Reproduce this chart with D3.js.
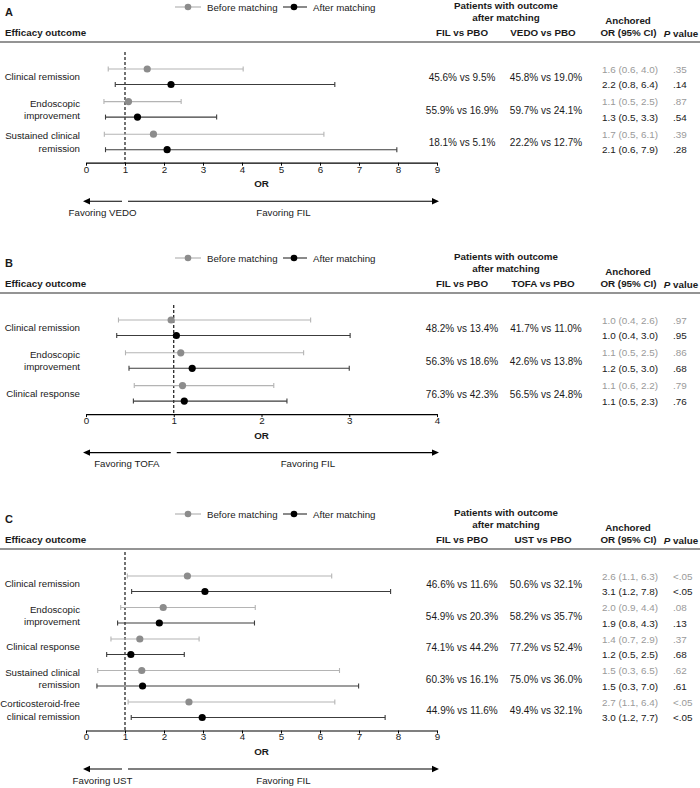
<!DOCTYPE html>
<html><head><meta charset="utf-8">
<script src="https://cdn.jsdelivr.net/npm/d3@7"></script>
<style>
body{margin:0;background:#fff}
svg{display:block}
text{font-family:"Liberation Sans",Arial,Helvetica,sans-serif}
</style>
</head><body>
<svg id="c" width="700" height="788"></svg>
<script>
// ---------- DATA ----------
const panelLetters = ["A", "B", "C"];
const comparators = ["VEDO", "TOFA", "UST"];

// Panel A: FIL vs VEDO
const outcomesA = ["Clinical remission", "Endoscopic\nimprovement", "Sustained clinical\nremission"];
const beforeA = [[0.57, 1.57, 4.03], [0.46, 1.09, 2.44], [0.47, 1.73, 6.10]]; // [lo, OR, hi]
const afterA  = [[0.75, 2.18, 6.38], [0.50, 1.32, 3.35], [0.50, 2.08, 7.97]];
const filPboA = ["45.6% vs 9.5%", "55.9% vs 16.9%", "18.1% vs 5.1%"];
const compPboA = ["45.8% vs 19.0%", "59.7% vs 24.1%", "22.2% vs 12.7%"];
const ciBeforeA = ["1.6 (0.6, 4.0)", "1.1 (0.5, 2.5)", "1.7 (0.5, 6.1)"];
const pBeforeA = [".35", ".87", ".39"];
const ciAfterA = ["2.2 (0.8, 6.4)", "1.3 (0.5, 3.3)", "2.1 (0.6, 7.9)"];
const pAfterA = [".14", ".54", ".28"];
const ticksA = [0, 1, 2, 3, 4, 5, 6, 7, 8, 9];

// Panel B: FIL vs TOFA
const outcomesB = ["Clinical remission", "Endoscopic\nimprovement", "Clinical response"];
const beforeB = [[0.37, 0.97, 2.56], [0.45, 1.08, 2.48], [0.55, 1.10, 2.14]];
const afterB  = [[0.35, 1.03, 3.01], [0.49, 1.21, 3.00], [0.54, 1.12, 2.29]];
const filPboB = ["48.2% vs 13.4%", "56.3% vs 18.6%", "76.3% vs 42.3%"];
const compPboB = ["41.7% vs 11.0%", "42.6% vs 13.8%", "56.5% vs 24.8%"];
const ciBeforeB = ["1.0 (0.4, 2.6)", "1.1 (0.5, 2.5)", "1.1 (0.6, 2.2)"];
const pBeforeB = [".97", ".86", ".79"];
const ciAfterB = ["1.0 (0.4, 3.0)", "1.2 (0.5, 3.0)", "1.1 (0.5, 2.3)"];
const pAfterB = [".95", ".68", ".76"];
const ticksB = [0, 1, 2, 3, 4];

// Panel C: FIL vs UST
const outcomesC = ["Clinical remission", "Endoscopic\nimprovement", "Clinical response", "Sustained clinical\nremission", "Corticosteroid-free\nclinical remission"];
const beforeC = [[1.06, 2.60, 6.30], [0.89, 1.98, 4.34], [0.64, 1.38, 2.90], [0.30, 1.43, 6.50], [1.08, 2.64, 6.38]];
const afterC  = [[1.17, 3.05, 7.81], [0.81, 1.88, 4.32], [0.53, 1.15, 2.52], [0.28, 1.45, 6.99], [1.16, 2.98, 7.67]];
const filPboC = ["46.6% vs 11.6%", "54.9% vs 20.3%", "74.1% vs 44.2%", "60.3% vs 16.1%", "44.9% vs 11.6%"];
const compPboC = ["50.6% vs 32.1%", "58.2% vs 35.7%", "77.2% vs 52.4%", "75.0% vs 36.0%", "49.4% vs 32.1%"];
const ciBeforeC = ["2.6 (1.1, 6.3)", "2.0 (0.9, 4.4)", "1.4 (0.7, 2.9)", "1.5 (0.3, 6.5)", "2.7 (1.1, 6.4)"];
const pBeforeC = ["<.05", ".08", ".37", ".62", "<.05"];
const ciAfterC = ["3.1 (1.2, 7.8)", "1.9 (0.8, 4.3)", "1.2 (0.5, 2.5)", "1.5 (0.3, 7.0)", "3.0 (1.2, 7.7)"];
const pAfterC = ["<.05", ".13", ".68", ".61", "<.05"];
const ticksC = [0, 1, 2, 3, 4, 5, 6, 7, 8, 9];

const legendLabels = ["Before matching", "After matching"];

// ---------- STYLE / LAYOUT ----------
const COL = {
  grayDot: "#8c8c8c", grayLine: "#b4b4b4", grayText: "#9a9a9a",
  blackDot: "#000", blackLine: "#3c3c3c", text: "#1a1a1a", rule: "#707070"
};
const FS = 9.8;

const panels = [
  {letter: panelLetters[0], comp: comparators[0], outcomes: outcomesA, before: beforeA, after: afterA,
   fil: filPboA, cmp: compPboA, ciB: ciBeforeA, pB: pBeforeA, ciA: ciAfterA, pA: pAfterA, ticks: ticksA,
   lineY: 42, step: 32.6, dotTop: 10},
  {letter: panelLetters[1], comp: comparators[1], outcomes: outcomesB, before: beforeB, after: afterB,
   fil: filPboB, cmp: compPboB, ciB: ciBeforeB, pB: pBeforeB, ciA: ciAfterB, pA: pAfterB, ticks: ticksB,
   lineY: 293, step: 32.8, dotTop: 12},
  {letter: panelLetters[2], comp: comparators[2], outcomes: outcomesC, before: beforeC, after: afterC,
   fil: filPboC, cmp: compPboC, ciB: ciBeforeC, pB: pBeforeC, ciA: ciAfterC, pA: pAfterC, ticks: ticksC,
   lineY: 549, step: 31.5, dotTop: 3}
];

const svg = d3.select("#c");

function txt(g, x, y, s, opts = {}) {
  return g.append("text")
    .attr("x", x).attr("y", y)
    .attr("dominant-baseline", "central")
    .attr("text-anchor", opts.anchor || "start")
    .attr("font-size", opts.size || FS)
    .attr("font-weight", opts.bold ? "bold" : "normal")
    .attr("font-style", opts.italic ? "italic" : "normal")
    .attr("fill", opts.fill || COL.text)
    .text(s);
}

function drawPanel(p) {
  const g = svg.append("g");
  const L = p.lineY;
  const n = p.outcomes.length;
  const pairGap = 15.5;
  const x = d3.scaleLinear().domain([0, d3.max(p.ticks)]).range([86, 437]);
  const y = d3.scalePoint().domain(d3.range(n)).range([L + 27, L + 27 + (n - 1) * p.step]);
  const axisY = y(n - 1) + pairGap + 13;

  // panel letter
  txt(g, 5, L - 30, p.letter, {bold: true, size: 11});

  // legend
  const ly = L - 35;
  g.append("line").attr("x1", 175).attr("x2", 201).attr("y1", ly).attr("y2", ly)
    .attr("stroke", COL.grayLine).attr("stroke-width", 1.2);
  g.append("circle").attr("cx", 188).attr("cy", ly).attr("r", 3.3).attr("fill", COL.grayDot);
  txt(g, 207, ly, legendLabels[0], {size: 9.7});
  g.append("line").attr("x1", 283).attr("x2", 307).attr("y1", ly).attr("y2", ly)
    .attr("stroke", COL.blackLine).attr("stroke-width", 1.2);
  g.append("circle").attr("cx", 294).attr("cy", ly).attr("r", 3.3).attr("fill", COL.blackDot);
  txt(g, 313, ly, legendLabels[1], {size: 9.7});

  // headers
  txt(g, 5, L - 9.5, "Efficacy outcome", {bold: true});
  txt(g, 506, L - 37, "Patients with outcome", {bold: true, anchor: "middle"});
  txt(g, 506, L - 25, "after matching", {bold: true, anchor: "middle"});
  txt(g, 462, L - 9.5, "FIL vs PBO", {bold: true, anchor: "middle"});
  txt(g, 543, L - 9.5, p.comp + " vs PBO", {bold: true, anchor: "middle"});
  txt(g, 628, L - 21.5, "Anchored", {bold: true, anchor: "middle"});
  txt(g, 628.5, L - 9.5, "OR (95% CI)", {bold: true, anchor: "middle"});
  const pv = txt(g, 681, L - 9.5, "", {bold: true, anchor: "middle"});
  pv.append("tspan").attr("font-style", "italic").text("P");
  pv.append("tspan").text(" value");

  // header rule
  g.append("line").attr("x1", 0).attr("x2", 700).attr("y1", L).attr("y2", L)
    .attr("stroke", COL.rule).attr("stroke-width", 1.4);

  // reference line at OR = 1
  g.append("line").attr("x1", x(1)).attr("x2", x(1)).attr("y1", L + p.dotTop).attr("y2", axisY)
    .attr("stroke", "#000").attr("stroke-width", 1.1).attr("stroke-dasharray", "3,2");

  // rows
  d3.range(n).forEach(i => {
    const yg = y(i), yb = y(i) + pairGap, ym = (yg + yb) / 2;
    const sets = [
      {d: p.before[i], yy: yg, line: COL.grayLine, dot: COL.grayDot},
      {d: p.after[i], yy: yb, line: COL.blackLine, dot: COL.blackDot}
    ];
    sets.forEach(s => {
      const [lo, or, hi] = s.d;
      g.append("line").attr("x1", x(lo)).attr("x2", x(hi)).attr("y1", s.yy).attr("y2", s.yy)
        .attr("stroke", s.line).attr("stroke-width", 1.1);
      [lo, hi].forEach(v => g.append("line").attr("x1", x(v)).attr("x2", x(v))
        .attr("y1", s.yy - 2.5).attr("y2", s.yy + 2.5).attr("stroke", s.line).attr("stroke-width", 1.1));
      g.append("circle").attr("cx", x(or)).attr("cy", s.yy).attr("r", 3.6).attr("fill", s.dot);
    });
    // outcome label
    const lines = p.outcomes[i].split("\n");
    lines.forEach((t, k) => {
      const off = (k - (lines.length - 1) / 2) * 12.5;
      txt(g, 80, ym + off, t, {anchor: "end", size: 9.7});
    });
    txt(g, 462, ym + 1, p.fil[i], {anchor: "middle", size: 10});
    txt(g, 546, ym + 1, p.cmp[i], {anchor: "middle", size: 10});
    txt(g, 602, yg, p.ciB[i], {fill: COL.grayText, size: 9.9});
    txt(g, 673, yg, p.pB[i], {fill: COL.grayText, size: 9.9});
    txt(g, 602, yb, p.ciA[i], {size: 9.9});
    txt(g, 673, yb, p.pA[i], {size: 9.9});
  });

  // axis
  const ax = g.append("g").attr("transform", `translate(0,${axisY})`)
    .call(d3.axisBottom(x).tickValues(p.ticks).tickSize(3).tickSizeOuter(0).tickPadding(0).tickFormat(d3.format("d")));
  ax.select(".domain").attr("stroke", "#000").attr("stroke-width", 1.2);
  ax.selectAll(".tick line").attr("stroke", "#000").attr("stroke-width", 1);
  ax.selectAll(".tick text").attr("font-size", FS).attr("fill", COL.text)
    .attr("font-family", '"Liberation Sans",Arial,sans-serif');
  txt(g, (x.range()[0] + x.range()[1]) / 2, axisY + 21, "OR", {bold: true, anchor: "middle"});

  // favoring arrows
  const ay = axisY + 38.5;
  const aL0 = x(0) - 3, aL1 = x(1) - 3, aR0 = x(1) + 3, aR1 = x.range()[1] + 2;
  g.append("line").attr("x1", aL0 + 5).attr("x2", aL1).attr("y1", ay).attr("y2", ay).attr("stroke", "#000").attr("stroke-width", 1.1);
  g.append("path").attr("d", `M${aL0},${ay}L${aL0 + 7},${ay - 3.2}L${aL0 + 7},${ay + 3.2}Z`).attr("fill", "#000");
  g.append("line").attr("x1", aR0).attr("x2", aR1 - 5).attr("y1", ay).attr("y2", ay).attr("stroke", "#000").attr("stroke-width", 1.1);
  g.append("path").attr("d", `M${aR1},${ay}L${aR1 - 7},${ay - 3.2}L${aR1 - 7},${ay + 3.2}Z`).attr("fill", "#000");
  txt(g, (aL0 + aL1) / 2, ay + 11, "Favoring " + p.comp, {anchor: "middle", size: 9.7});
  txt(g, (aR0 + aR1) / 2, ay + 11, "Favoring FIL", {anchor: "middle", size: 9.7});
}

panels.forEach(drawPanel);
</script>
</body></html>
